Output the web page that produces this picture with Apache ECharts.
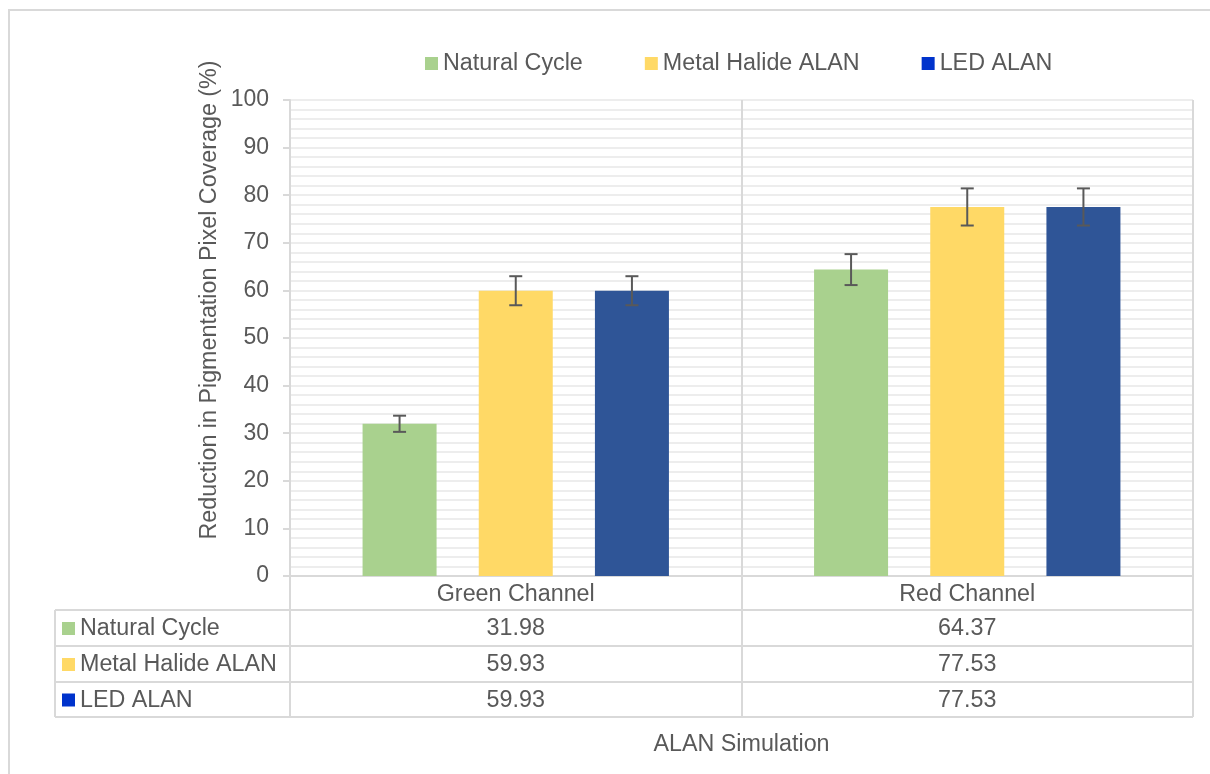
<!DOCTYPE html>
<html>
<head>
<meta charset="utf-8">
<script src="https://cdn.jsdelivr.net/npm/echarts@6/dist/echarts.min.js"></script>
<style>
html,body{margin:0;padding:0;background:#fff;}
#chart{width:1210px;height:774px;}
</style>
</head>
<body>
<div id="chart"></div>
<script>
// ---- data ----
var categories = ['Green Channel', 'Red Channel'];
var seriesNames = ['Natural Cycle', 'Metal Halide ALAN', 'LED ALAN'];
var naturalCycle = [31.98, 64.37];
var metalHalide = [59.93, 77.53];
var ledAlan = [59.93, 77.53];
var naturalErr = [1.7, 3.25];
var metalHalideErr = [3.05, 3.9];
var ledErr = [3.05, 3.9];
var yTicks = [0, 10, 20, 30, 40, 50, 60, 70, 80, 90, 100];
var tableValueLabels = [['31.98', '64.37'], ['59.93', '77.53'], ['59.93', '77.53']];
var xAxisTitle = 'ALAN Simulation';
var yAxisTitle = 'Reduction in Pigmentation Pixel Coverage (%)';

// ---- style ----
var barColors = ['#A9D18E', '#FFD966', '#2F5597'];
var legendColors = ['#A9D18E', '#FFD966', '#0033CC'];
var textColor = '#595959';
var lineColor = '#D9D9D9';
var gridColor = '#EDEDED';
var FONT = 'Liberation Sans, Arial, sans-serif';
var FS = 23.3;
var barW = 74, barGapRatio = 0.57;

var values = [naturalCycle, metalHalide, ledAlan];
var errs = [naturalErr, metalHalideErr, ledErr];

var chart = echarts.init(document.getElementById('chart'));

function errSeries(i) {
  var offset = (i - 1) * barW * (1 + barGapRatio);
  return {
    type: 'custom',
    name: seriesNames[i] + ' err',
    z: 10,
    data: values[i].map(function (v, k) { return [k, v, errs[i][k]]; }),
    renderItem: function (params, api) {
      var x = api.coord([api.value(0), api.value(1)])[0] + offset;
      var top = api.coord([api.value(0), api.value(1) + api.value(2)])[1];
      var bot = api.coord([api.value(0), api.value(1) - api.value(2)])[1];
      var cap = 6.5;
      var st = { stroke: '#595959', lineWidth: 2 };
      return {
        type: 'group',
        children: [
          { type: 'line', shape: { x1: x, y1: top, x2: x, y2: bot }, style: st },
          { type: 'line', shape: { x1: x - cap, y1: top, x2: x + cap, y2: top }, style: st },
          { type: 'line', shape: { x1: x - cap, y1: bot, x2: x + cap, y2: bot }, style: st }
        ]
      };
    },
    tooltip: { show: false }
  };
}

var series = [];
for (var i = 0; i < 3; i++) {
  series.push({
    type: 'bar',
    name: seriesNames[i],
    data: values[i],
    barWidth: barW,
    barGap: (barGapRatio * 100) + '%',
    itemStyle: { color: barColors[i] }
  });
}
for (var j = 0; j < 3; j++) series.push(errSeries(j));

var option = {
  animation: false,
  backgroundColor: '#fff',
  textStyle: { fontFamily: FONT },
  legend: {
    data: seriesNames.map(function (n, k) { return { name: n, itemStyle: { color: legendColors[k] } }; }),
    left: 420,
    top: 47,
    icon: 'rect',
    itemWidth: 13,
    itemHeight: 13,
    itemGap: 62,
    textStyle: { color: textColor, fontSize: FS, fontFamily: FONT, padding: [0, 0, 0, 0] }
  },
  grid: { left: 290, right: 17, top: 100, bottom: 198, containLabel: false },
  xAxis: {
    type: 'category',
    data: categories,
    axisLine: { show: true, lineStyle: { color: lineColor, width: 2 } },
    axisTick: { show: true, length: 141, inside: false, lineStyle: { color: lineColor, width: 2 } },
    axisLabel: { color: textColor, fontSize: FS, fontFamily: FONT, margin: 7 },
    splitLine: { show: true, lineStyle: { color: lineColor, width: 2 } }
  },
  yAxis: {
    type: 'value',
    min: 0,
    max: 100,
    interval: 10,
    axisLine: { show: true, lineStyle: { color: lineColor, width: 2 } },
    axisTick: { show: true, length: 7, lineStyle: { color: lineColor, width: 2 } },
    axisLabel: { color: textColor, fontSize: 23, fontFamily: FONT, margin: 21,
      formatter: function (v) { return yTicks.indexOf(v) >= 0 ? String(v) : ''; } },
    splitLine: { show: true, lineStyle: { color: gridColor, width: 2 } },
    minorTick: { show: false, splitNumber: 5 },
    minorSplitLine: { show: true, lineStyle: { color: gridColor, width: 2 } }
  },
  series: series
};
chart.setOption(option);

// ---- data table & titles as graphics ----
var plotLeft = 290, plotRight = 1193;
var tableLeft = 55;
var rowTops = [610, 646, 682, 717];
var g = [];
var ls = { stroke: lineColor, lineWidth: 2 };
rowTops.forEach(function (y) {
  g.push({ type: 'line', shape: { x1: tableLeft, y1: y, x2: plotRight, y2: y }, style: ls, silent: true });
});
g.push({ type: 'line', shape: { x1: tableLeft, y1: rowTops[0], x2: tableLeft, y2: rowTops[3] }, style: ls, silent: true });
for (var r = 0; r < 3; r++) {
  var cy = (rowTops[r] + rowTops[r + 1]) / 2 + 1;
  g.push({ type: 'rect', shape: { x: 62, y: cy - 7, width: 13, height: 13 }, style: { fill: legendColors[r] }, silent: true });
  g.push({ type: 'text', x: 80, y: cy, style: { text: seriesNames[r], fill: textColor, font: FS + 'px ' + FONT, textAlign: 'left', textVerticalAlign: 'middle' }, silent: true });
  for (var c = 0; c < categories.length; c++) {
    var cx = chart.convertToPixel({ xAxisIndex: 0 }, c);
    g.push({ type: 'text', x: cx, y: cy, style: { text: tableValueLabels[r][c], fill: textColor, font: FS + 'px ' + FONT, textAlign: 'center', textVerticalAlign: 'middle' }, silent: true });
  }
}
g.push({ type: 'text', x: (plotLeft + plotRight) / 2, y: 745, style: { text: xAxisTitle, fill: textColor, font: FS + 'px ' + FONT, textAlign: 'center', textVerticalAlign: 'middle' }, silent: true });
g.push({ type: 'text', x: 210, y: 300, rotation: Math.PI / 2, style: { text: yAxisTitle, fill: textColor, font: FS + 'px ' + FONT, textAlign: 'center', textVerticalAlign: 'middle' }, silent: true });
g.push({ type: 'rect', shape: { x: 9, y: 10, width: 1220, height: 800 }, style: { fill: 'none', stroke: lineColor, lineWidth: 2 }, silent: true, z: 100 });
chart.setOption({ graphic: g });
</script>
</body>
</html>
